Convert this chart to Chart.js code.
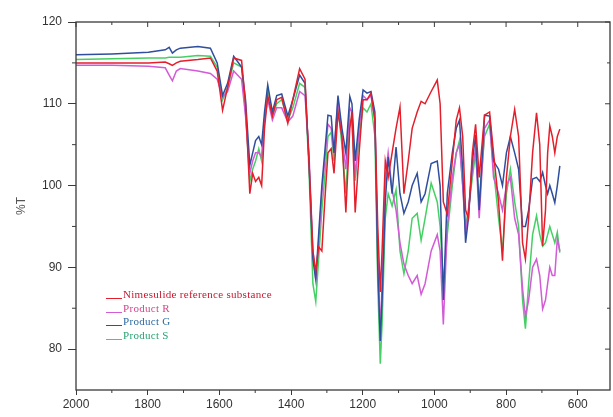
<!DOCTYPE html>
<html>
<head>
<meta charset="utf-8">
<script src="https://cdn.jsdelivr.net/npm/chart.js@4.4.1/dist/chart.umd.min.js"></script>
<style>
  html, body { margin: 0; padding: 0; background: #fff; }
  #wrap { position: relative; width: 613px; height: 417px; }
  #legenda { position: absolute; left: 106px; top: 288px; font-family: "Liberation Serif", "DejaVu Serif", serif; font-size: 11px; letter-spacing: 0.3px; line-height: 13.5px; }
  #legenda div { white-space: nowrap; }
  #legenda span.linha { display: inline-block; width: 16px; height: 10px; border-bottom: 1.5px solid; margin-right: 1px; vertical-align: top; }
</style>
</head>
<body>
<div id="wrap">
  <canvas id="grafico-ir" width="613" height="417"></canvas>
  <div id="legenda"></div>
</div>
<script>
// numero de onda (cm-1) e %T de cada amostra
const numerosOnda = [2000, 1900, 1798, 1751, 1740, 1731, 1720, 1709, 1660, 1625,
  1606, 1591, 1577, 1560, 1538, 1527, 1515, 1507, 1499, 1490,
  1482, 1474, 1465, 1452, 1440, 1426, 1409, 1395, 1376, 1361,
  1350, 1339, 1331, 1323, 1314, 1306, 1297, 1288, 1280, 1269,
  1258, 1247, 1236, 1230, 1221, 1210, 1199, 1188, 1177, 1166,
  1158, 1151, 1146, 1137, 1129, 1118, 1107, 1096, 1085, 1073,
  1062, 1048, 1037, 1026, 1009, 992, 984, 975, 964, 950,
  939, 930, 921, 913, 905, 894, 885, 875, 860, 846,
  835, 821, 810, 799, 788, 776, 765, 754, 746, 737,
  726, 715, 706, 698, 690, 684, 678, 671, 664, 657, 650];

const nimesulida = [115.0, 115.0, 115.0, 115.1, 114.9, 114.7, 115.0, 115.2, 115.4, 115.6,
  114.0, 109.2, 112.0, 115.6, 115.3, 110.0, 99.0, 101.5, 100.5, 101.0,
  100.0, 107.0, 111.0, 108.5, 110.5, 110.8, 107.6, 110.5, 114.3, 113.0,
  103.0, 92.0, 89.5, 92.5, 92.0, 98.0, 104.0, 104.5, 101.5, 109.0,
  106.0, 96.7, 107.0, 109.0, 96.7, 104.0, 110.5, 110.5, 111.3, 108.0,
  95.0, 87.0, 92.0, 103.0, 101.0, 104.0, 107.0, 109.6, 99.0, 103.0,
  107.0, 109.0, 110.3, 110.0, 111.5, 112.9, 110.0, 98.0, 96.5, 103.0,
  108.0, 109.5, 106.0, 97.0, 96.0, 104.0, 107.5, 101.0, 108.6, 109.0,
  104.0, 98.0, 90.8, 101.0, 106.0, 109.3, 106.0, 93.0, 91.0, 96.0,
  104.0, 108.9, 105.0, 92.6, 97.0, 104.0, 107.3, 106.0, 104.0, 106.0, 106.9];

const produtoR = [114.7, 114.7, 114.6, 114.4, 113.5, 112.8, 114.0, 114.3, 114.0, 113.7,
  113.0, 110.8, 111.5, 114.0, 113.0, 108.5, 101.5, 103.0, 104.0, 104.0,
  103.5, 108.0, 110.5, 108.0, 109.5, 109.5, 107.8, 108.5, 111.5, 111.0,
  104.0, 92.0, 88.5, 93.0, 99.0, 103.0, 107.5, 107.0, 104.0, 110.5,
  106.0, 102.0, 109.5, 109.0, 101.0, 107.0, 111.0, 110.5, 111.0, 108.0,
  92.0, 82.0, 88.0, 101.0, 104.0, 99.5, 97.0, 93.0, 90.4, 89.0,
  88.0, 89.0, 86.7, 88.0, 92.0, 94.0, 92.0, 83.0, 95.0, 101.0,
  104.0, 105.0, 100.0, 94.0, 97.0, 102.0, 104.5, 96.0, 107.0, 108.0,
  101.0, 99.0, 97.0, 100.0, 101.0, 96.0, 94.0, 87.4, 84.0, 86.0,
  90.0, 91.0, 89.0, 84.9, 86.0, 88.0, 90.0, 89.0, 89.0, 93.5, 92.0];

const produtoG = [116.0, 116.1, 116.3, 116.6, 116.9, 116.2, 116.6, 116.8, 117.0, 116.8,
  115.0, 111.0, 112.5, 115.8, 114.5, 110.5, 102.5, 104.0, 105.5, 106.0,
  105.0, 109.0, 112.3, 109.0, 111.0, 111.2, 108.5, 110.5, 113.5, 112.5,
  103.0, 91.0, 88.5, 94.0, 100.0, 104.0, 108.6, 108.5, 104.0, 111.0,
  107.0, 104.0, 110.9, 110.0, 103.0, 108.0, 111.7, 111.3, 111.5, 109.0,
  90.0, 81.0, 86.0, 98.0, 103.5, 99.0, 104.7, 99.0, 96.6, 98.0,
  100.0, 101.5, 98.0, 99.0, 102.7, 103.0, 100.0, 86.0, 99.0, 104.0,
  107.0, 108.0, 102.0, 93.0, 96.0, 103.0, 106.2, 97.0, 108.6, 108.5,
  103.0, 102.0, 100.0, 104.0, 106.0, 104.0, 102.0, 95.0, 95.0, 97.0,
  100.8, 101.0, 100.5, 101.6, 100.0, 99.0, 100.0, 99.0, 97.9, 100.0, 102.4];

const produtoS = [115.4, 115.5, 115.6, 115.6, 115.7, 115.7, 115.7, 115.7, 115.9, 115.8,
  114.5, 110.5, 112.0, 115.0, 114.5, 109.0, 100.5, 102.0, 103.0, 104.5,
  103.0, 108.0, 112.0, 108.5, 110.0, 110.5, 108.0, 109.5, 112.5, 112.0,
  102.0, 88.0, 85.8, 91.0, 97.0, 101.0, 106.0, 106.5, 103.0, 109.5,
  105.0, 99.0, 108.0, 107.5, 100.6, 106.0, 109.5, 109.0, 110.0, 106.0,
  88.0, 78.2, 83.0, 96.0, 99.0, 97.5, 99.5, 92.0, 89.2, 92.0,
  96.0, 96.6, 93.3, 96.0, 100.3, 98.0, 95.0, 88.0, 94.0, 100.0,
  104.0, 105.5, 100.0, 95.0, 97.0, 101.0, 104.0, 98.0, 106.0, 107.5,
  102.0, 96.0, 92.0, 99.0, 102.0, 98.0, 95.0, 86.0, 82.5, 88.0,
  94.0, 96.3, 94.0, 92.6, 93.0, 94.0, 95.0, 94.0, 93.0, 94.3, 91.8];

const nomesSeries = ['Nimesulide reference substance', 'Product R', 'Product G', 'Product S'];
const coresLinha = ['#e41f2b', '#d25bd6', '#2f4f9e', '#45d064'];
const coresTexto = ['#c8162e', '#d2468c', '#2c6aa0', '#2aa272'];

const limitesX = [510, 2000];
const limitesY = [75, 120];

// caixa em volta do grafico com marcas menores
const moldura = {
    id: 'moldura',
    afterDraw(chart) {
        const { ctx, chartArea: a, scales: { x, y } } = chart;
        ctx.save();
        ctx.strokeStyle = '#3a3a3a';
        ctx.lineWidth = 1.3;
        ctx.strokeRect(a.left, a.top, a.right - a.left, a.bottom - a.top);
        ctx.lineWidth = 1;
        ctx.beginPath();
        for (let v = 600; v <= 2000; v += 100) {
            const px = x.getPixelForValue(v);
            const major = v % 200 === 0;
            ctx.moveTo(px, a.top);
            ctx.lineTo(px, a.top + (major ? 5 : 3));
            if (!major) {
                ctx.moveTo(px, a.bottom);
                ctx.lineTo(px, a.bottom + 3);
            }
        }
        for (let v = 80; v <= 120; v += 5) {
            const py = y.getPixelForValue(v);
            const major = v % 10 === 0;
            ctx.moveTo(a.right, py);
            ctx.lineTo(a.right - (major ? 5 : 3), py);
            if (!major) {
                ctx.moveTo(a.left, py);
                ctx.lineTo(a.left - 4, py);
            }
        }
        ctx.stroke();
        ctx.restore();
    }
};

const series = [nimesulida, produtoR, produtoG, produtoS];
const datasets = series.map((valores, i) => ({
    label: nomesSeries[i],
    data: numerosOnda.map((w, k) => ({ x: w, y: valores[k] })),
    borderColor: coresLinha[i],
    borderWidth: 1.5,
    pointRadius: 0,
    tension: 0,
    order: [1, 3, 2, 4][i]
}));

const fonteEixo = { family: 'Liberation Sans, Arial, sans-serif', size: 12 };

new Chart(document.getElementById('grafico-ir'), {
    type: 'line',
    data: { datasets },
    options: {
        responsive: false,
        animation: false,
        layout: { padding: { top: 22, right: 3, left: 0, bottom: 0 } },
        plugins: { legend: { display: false }, tooltip: { enabled: false } },
        scales: {
            x: {
                type: 'linear',
                reverse: true,
                min: limitesX[0],
                max: limitesX[1],
                afterFit: s => { s.height = 27; },
                border: { display: false },
                grid: { drawOnChartArea: false, tickLength: 5, color: '#3a3a3a' },
                ticks: { stepSize: 200, includeBounds: false, maxRotation: 0, color: '#333', padding: 2,
                    font: fonteEixo, callback: v => String(v) }
            },
            y: {
                min: limitesY[0],
                max: limitesY[1],
                afterFit: s => { s.width = 76; },
                border: { display: false },
                grid: { drawOnChartArea: false, tickLength: 8, color: '#3a3a3a' },
                ticks: { stepSize: 10, includeBounds: false, color: '#333', padding: 6,
                    font: fonteEixo, callback: v => String(v) },
                title: { display: true, text: '%T', color: '#555', font: fonteEixo,
                    padding: { top: 14, bottom: 0 } }
            }
        }
    },
    plugins: [moldura]
});

// legenda dentro da area do grafico
const legenda = document.getElementById('legenda');
nomesSeries.forEach((nome, i) => {
    const linha = document.createElement('div');
    linha.style.color = coresTexto[i];
    linha.innerHTML = '<span class="linha" style="border-color:' + coresLinha[i] + '"></span>' + nome;
    legenda.appendChild(linha);
});
</script>
</body>
</html>
